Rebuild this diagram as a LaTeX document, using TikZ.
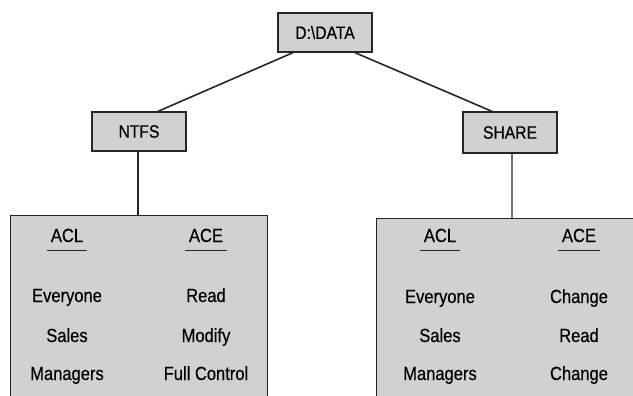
\documentclass[tikz,border=0pt]{standalone}
\usepackage{fontspec}
\setmainfont{Liberation Sans}[FakeStretch=0.87,FakeBold=0.4]
\begin{document}
\begin{tikzpicture}[x=1pt,y=-1pt,
  every node/.style={font=\fontsize{19}{21}\selectfont, text=black},
  tagfont/.style={font=\fontsize{18}{20}\selectfont},
  tag/.style={draw=black!85, line width=1.3pt, fill=black!18, minimum width=94pt, minimum height=39pt, inner sep=0pt, tagfont},
  panel/.style={draw=black!85, line width=1.3pt, fill=black!18, inner sep=0pt},
  link/.style={draw=black!85, line width=1.6pt},
  glink/.style={draw=black!55, line width=1.6pt},
  head/.style={anchor=base, inner xsep=4pt, inner ysep=8pt},
  uline/.style={draw=black!85, line width=1.1pt},
  item/.style={anchor=base}
]
\useasboundingbox (0,0) rectangle (633,396);
\begin{scope}
\clip (0,0) rectangle (633,396);
% panels
\node[panel, minimum width=257pt, minimum height=220pt, anchor=north west] (lbox) at (10,215) {};
\node[panel, minimum width=270pt, minimum height=220pt, anchor=north west] (rbox) at (376,218) {};
% tags
\node[tag] (data) at (325,32.5) {D:\textbackslash DATA};
\node[tag] (ntfs) at (139,131.5) {NTFS};
\node[tag, minimum height=41pt] (share) at (510,132.5) {SHARE};
% connectors
\draw[link] ([xshift=-32pt]data.south) -- ([xshift=19pt]ntfs.north);
\draw[link] ([xshift=30pt]data.south) -- ([xshift=-18pt]share.north);
\draw[link] ([xshift=-1pt]ntfs.south) -- ([xshift=-1pt]ntfs.south |- lbox.north);
\draw[glink] ([xshift=2pt]share.south) -- ([xshift=2pt]share.south |- rbox.north);
% left panel
\node[head] (lacl) at (67,242) {ACL};
\node[head] (lace) at (206,242) {ACE};
\draw[uline] (lacl.south west) -- (lacl.south east);
\draw[uline] (lace.south west) -- (lace.south east);
\node[item] (l1) at (67,302) {Everyone};
\node[item] (l2) at (67,342) {Sales};
\node[item] (l3) at (67,380) {Managers};
\node[item] (l4) at (206,302) {Read};
\node[item] (l5) at (206,342) {Modify};
\node[item] (l6) at (206,380) {Full Control};
% right panel
\node[head] (racl) at (440,242) {ACL};
\node[head] (race) at (579,242) {ACE};
\draw[uline] (racl.south west) -- (racl.south east);
\draw[uline] (race.south west) -- (race.south east);
\node[item] (r1) at (440,303) {Everyone};
\node[item] (r2) at (440,342) {Sales};
\node[item] (r3) at (440,380) {Managers};
\node[item] (r4) at (579,303) {Change};
\node[item] (r5) at (579,342) {Read};
\node[item] (r6) at (579,380) {Change};
\end{scope}
\end{tikzpicture}
\end{document}
